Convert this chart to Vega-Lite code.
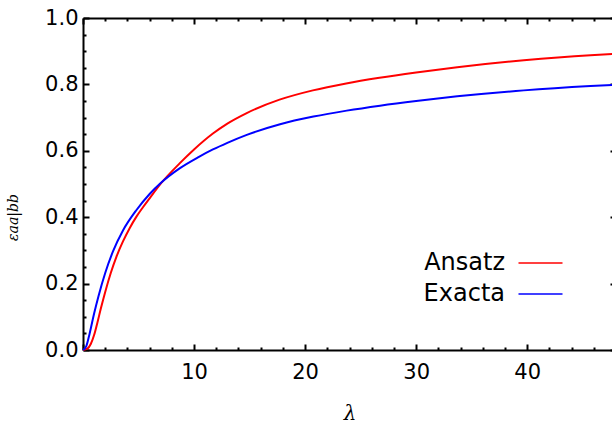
{
  "$schema": "https://vega.github.io/schema/vega-lite/v6.json",
  "width": 533,
  "height": 332,
  "autosize": {"type": "none"},
  "padding": {"left": 83, "top": 18, "right": 0, "bottom": 78},
  "background": "white",
  "config": {"view": {"stroke": null}, "font": "DejaVu Sans"},
  "data": {
    "values": [
      {"lambda": 0, "eps": 0, "series": "Ansatz"},
      {"lambda": 0.4, "eps": 0.004, "series": "Ansatz"},
      {"lambda": 0.7, "eps": 0.018, "series": "Ansatz"},
      {"lambda": 1.0, "eps": 0.045, "series": "Ansatz"},
      {"lambda": 1.3, "eps": 0.083, "series": "Ansatz"},
      {"lambda": 1.6, "eps": 0.124, "series": "Ansatz"},
      {"lambda": 2.0, "eps": 0.175, "series": "Ansatz"},
      {"lambda": 2.5, "eps": 0.232, "series": "Ansatz"},
      {"lambda": 3.0, "eps": 0.28, "series": "Ansatz"},
      {"lambda": 3.6, "eps": 0.327, "series": "Ansatz"},
      {"lambda": 4.2, "eps": 0.367, "series": "Ansatz"},
      {"lambda": 4.8, "eps": 0.401, "series": "Ansatz"},
      {"lambda": 5.4, "eps": 0.43, "series": "Ansatz"},
      {"lambda": 6, "eps": 0.457, "series": "Ansatz"},
      {"lambda": 7, "eps": 0.501, "series": "Ansatz"},
      {"lambda": 8.7, "eps": 0.562, "series": "Ansatz"},
      {"lambda": 10, "eps": 0.604, "series": "Ansatz"},
      {"lambda": 11.7, "eps": 0.652, "series": "Ansatz"},
      {"lambda": 13, "eps": 0.682, "series": "Ansatz"},
      {"lambda": 14.7, "eps": 0.713, "series": "Ansatz"},
      {"lambda": 17.7, "eps": 0.754, "series": "Ansatz"},
      {"lambda": 20.7, "eps": 0.782, "series": "Ansatz"},
      {"lambda": 23.7, "eps": 0.803, "series": "Ansatz"},
      {"lambda": 26.7, "eps": 0.82, "series": "Ansatz"},
      {"lambda": 30, "eps": 0.836, "series": "Ansatz"},
      {"lambda": 33.7, "eps": 0.852, "series": "Ansatz"},
      {"lambda": 39.7, "eps": 0.873, "series": "Ansatz"},
      {"lambda": 45.7, "eps": 0.888, "series": "Ansatz"},
      {"lambda": 48, "eps": 0.892, "series": "Ansatz"},
      {"lambda": 0, "eps": 0, "series": "Exacta"},
      {"lambda": 0.3, "eps": 0.012, "series": "Exacta"},
      {"lambda": 0.6, "eps": 0.05, "series": "Exacta"},
      {"lambda": 1.0, "eps": 0.11, "series": "Exacta"},
      {"lambda": 1.4, "eps": 0.163, "series": "Exacta"},
      {"lambda": 2.0, "eps": 0.232, "series": "Exacta"},
      {"lambda": 2.7, "eps": 0.297, "series": "Exacta"},
      {"lambda": 3.6, "eps": 0.36, "series": "Exacta"},
      {"lambda": 4.8, "eps": 0.421, "series": "Exacta"},
      {"lambda": 6, "eps": 0.47, "series": "Exacta"},
      {"lambda": 7, "eps": 0.503, "series": "Exacta"},
      {"lambda": 8.7, "eps": 0.547, "series": "Exacta"},
      {"lambda": 10.4, "eps": 0.581, "series": "Exacta"},
      {"lambda": 11.7, "eps": 0.604, "series": "Exacta"},
      {"lambda": 13, "eps": 0.624, "series": "Exacta"},
      {"lambda": 14.75, "eps": 0.648, "series": "Exacta"},
      {"lambda": 17.75, "eps": 0.68, "series": "Exacta"},
      {"lambda": 20.75, "eps": 0.703, "series": "Exacta"},
      {"lambda": 23.75, "eps": 0.721, "series": "Exacta"},
      {"lambda": 26.75, "eps": 0.736, "series": "Exacta"},
      {"lambda": 30, "eps": 0.75, "series": "Exacta"},
      {"lambda": 33.7, "eps": 0.764, "series": "Exacta"},
      {"lambda": 39.7, "eps": 0.782, "series": "Exacta"},
      {"lambda": 45.7, "eps": 0.795, "series": "Exacta"},
      {"lambda": 48, "eps": 0.799, "series": "Exacta"}
    ]
  },
  "layer": [
    {
      "mark": {"type": "line", "strokeWidth": 2, "interpolate": "monotone"},
      "encoding": {
        "x": {
          "field": "lambda",
          "type": "quantitative",
          "scale": {"domain": [0, 48], "nice": false, "zero": false},
          "axis": {
            "orient": "bottom",
            "values": [0, 2, 4, 6, 8, 10, 12, 14, 16, 18, 20, 22, 24, 26, 28, 30, 32, 34, 36, 38, 40, 42, 44, 46, 48],
            "title": "λ",
            "grid": false,
            "domainColor": "black",
            "domainWidth": 2,
            "tickColor": "black",
            "tickWidth": 2,
            "tickSize": {"condition": {"test": "datum.value % 10 === 0", "value": -6}, "value": -3},
            "labelExpr": "datum.value % 10 === 0 && datum.value > 0 ? datum.label : ''",
            "labelFont": "DejaVu Sans",
            "labelFontSize": 21,
            "labelColor": "black",
            "labelPadding": 17,
            "labelOverlap": false,
            "labelFlush": false,
            "titleFont": "DejaVu Serif",
            "titleFontStyle": "italic",
            "titleFontWeight": "normal",
            "titleFontSize": 20,
            "titleColor": "black",
            "titlePadding": 18
          }
        },
        "y": {
          "field": "eps",
          "type": "quantitative",
          "scale": {"domain": [0, 1], "nice": false},
          "axis": {
            "orient": "left",
            "values": [0, 0.05, 0.1, 0.15, 0.2, 0.25, 0.3, 0.35, 0.4, 0.45, 0.5, 0.55, 0.6, 0.65, 0.7, 0.75, 0.8, 0.85, 0.9, 0.95, 1],
            "title": "εaa|bb",
            "grid": false,
            "domainColor": "black",
            "domainWidth": 2,
            "tickColor": "black",
            "tickWidth": 2,
            "tickSize": {"condition": {"test": "round(datum.value * 100) % 20 === 0", "value": -6}, "value": -3},
            "labelExpr": "round(datum.value * 100) % 20 === 0 ? format(datum.value, '.1f') : ''",
            "labelFont": "DejaVu Sans",
            "labelFontSize": 21,
            "labelColor": "black",
            "labelPadding": 11,
            "labelOverlap": false,
            "labelFlush": false,
            "titleFont": "DejaVu Serif",
            "titleFontStyle": "italic",
            "titleFontWeight": "normal",
            "titleFontSize": 14,
            "titleColor": "black",
            "titleX": -63,
            "titleY": 199
          }
        },
        "color": {
          "field": "series",
          "type": "nominal",
          "scale": {"domain": ["Ansatz", "Exacta"], "range": ["#ff0000", "#0000ff"]},
          "legend": {
            "title": null,
            "orient": "none",
            "direction": "vertical",
            "legendX": 445.5,
            "legendY": 233,
            "padding": 0,
            "symbolType": "M-2,0H2",
            "symbolSize": 484,
            "symbolStrokeWidth": 1.5,
            "labelFont": "DejaVu Sans",
            "labelFontSize": 24,
            "labelColor": "black",
            "labelAlign": "right",
            "labelBaseline": "middle",
            "labelOffset": -47.5,
            "rowPadding": 7
          }
        }
      }
    },
    {
      "mark": {"type": "line", "opacity": 0},
      "encoding": {
        "x": {
          "field": "lambda",
          "type": "quantitative",
          "axis": {
            "orient": "top",
            "values": [0, 2, 4, 6, 8, 10, 12, 14, 16, 18, 20, 22, 24, 26, 28, 30, 32, 34, 36, 38, 40, 42, 44, 46, 48],
            "title": null,
            "labels": false,
            "grid": false,
            "domainColor": "black",
            "domainWidth": 2,
            "tickColor": "black",
            "tickWidth": 2,
            "tickSize": {"condition": {"test": "datum.value % 10 === 0", "value": -6}, "value": -3}
          }
        },
        "y": {
          "field": "eps",
          "type": "quantitative",
          "axis": {
            "orient": "right",
            "values": [0, 0.05, 0.1, 0.15, 0.2, 0.25, 0.3, 0.35, 0.4, 0.45, 0.5, 0.55, 0.6, 0.65, 0.7, 0.75, 0.8, 0.85, 0.9, 0.95, 1],
            "title": null,
            "labels": false,
            "grid": false,
            "domainColor": "black",
            "domainWidth": 2,
            "tickColor": "black",
            "tickWidth": 2,
            "tickSize": {"condition": {"test": "round(datum.value * 100) % 20 === 0", "value": -6}, "value": -3}
          }
        },
        "detail": {"field": "series", "type": "nominal"}
      }
    }
  ],
  "resolve": {"axis": {"x": "independent", "y": "independent"}}
}
